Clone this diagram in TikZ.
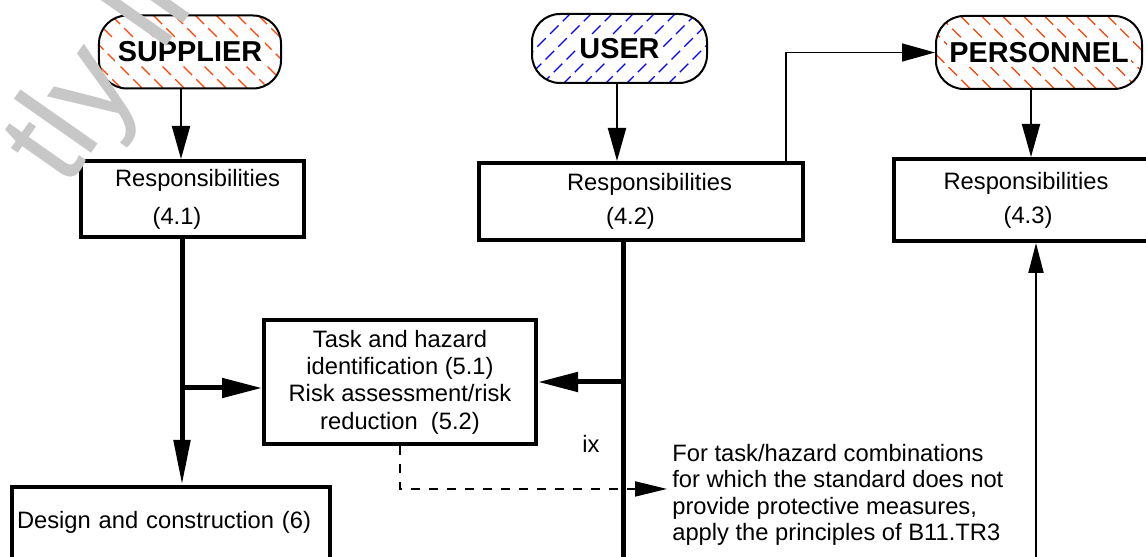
\documentclass[tikz,border=0pt]{standalone}
\usepackage{fontspec}
\setmainfont{Liberation Sans}
\usetikzlibrary{arrows.meta, calc}
\definecolor{hatchred}{RGB}{255,64,0}
\definecolor{hatchblue}{RGB}{0,0,255}
\newcommand{\partylabel}[1]{{\setlength{\fboxsep}{1.5pt}\colorbox{white}{#1}}}

\begin{document}
\begin{tikzpicture}[x=0.2mm, y=-0.2mm,
  font=\fontsize{13.5}{15.6}\selectfont,
  partybox/.style={draw, line width=0.4mm, rounded corners=5.6mm, minimum height=14.6mm,
    font=\fontsize{16.4}{18}\selectfont\bfseries},
  hatchdown/.style={path picture={\foreach \k in {-10,...,10}
      \draw[hatchred, line width=0.25mm, dash pattern=on 2.4mm off 1.2mm]
      ($(path picture bounding box.center)+(\k*4.2mm,0mm)+(-2cm,2cm)$) -- ++(4cm,-4cm);}},
  hatchup/.style={path picture={\foreach \k in {-10,...,10}
      \draw[hatchblue, line width=0.25mm, dash pattern=on 2.4mm off 1.2mm]
      ($(path picture bounding box.center)+(\k*4.2mm,0mm)+(-2cm,-2cm)$) -- ++(4cm,4cm);}},
  respbox/.style={draw, line width=0.8mm, align=center},
  feedarrow/.style={line width=0.4mm, -{Triangle[length=6.6mm, width=3.6mm]}},
  spineline/.style={line width=1mm},
  spinearrow/.style={spineline, -{Triangle[length=8mm, width=3.8mm]}},
  dasharrow/.style={line width=0.4mm, dash pattern=on 1.8mm off 1.8mm, -{Triangle[length=6.4mm, width=3mm]}}
]
\useasboundingbox (0,0) rectangle (1146,557);

\node[partybox, hatchdown, minimum width=36.4mm] (supplier) at (190,52) {\partylabel{SUPPLIER}};
\node[partybox, hatchup, minimum width=35mm, minimum height=13.8mm] (user) at (619.5,48.5) {\partylabel{USER}};
\node[partybox, hatchdown, minimum width=41.2mm] (personnel) at (1039,52.5) {\partylabel{PERSONNEL}};

\node[respbox, minimum width=44.6mm, minimum height=15.2mm] (resp1) at (192.5,199)
  {\hspace*{2mm}Responsibilities\\[2.1mm](4.1)\hspace*{6.2mm}};
\node[respbox, minimum width=64.8mm, minimum height=15.4mm] (resp2) at (641,201.5)
  {\hspace*{3.4mm}Responsibilities\\[1.3mm](4.2)\hspace*{4.2mm}};
\node[respbox, minimum width=52.8mm, minimum height=16.4mm] (resp3) at (1026,200)
  {Responsibilities\\[1.3mm]\hspace*{0.8mm}(4.3)};

\node[respbox, minimum width=54.4mm, minimum height=24.8mm] (hazard) at (400,382)
  {Task and hazard\\identification (5.1)\\Risk assessment/risk\\reduction\ \ (5.2)};
\node[respbox, anchor=north west, text width=61.6mm, align=left, inner xsep=1mm, inner ysep=0pt,
  text height=8.2mm, text depth=20mm] (design) at (10,485) {Design and construction (6)};

\node[anchor=north west, align=left, inner xsep=1mm, inner ysep=0pt,
  font=\fontsize{13.5}{15}\selectfont] (note) at (667,444)
  {For task/hazard combinations\\for which the standard does not\\provide protective measures,\\apply the principles of B11.TR3};
\node[anchor=base west, inner sep=0pt] (ix) at (582,453) {ix};

\coordinate (sspine) at ([xshift=-2.1mm]resp1.south);
\coordinate (uspine) at ([xshift=-3.6mm]resp2.south);
\coordinate (pfeed) at ([xshift=2mm]resp3.south);
\coordinate (bottom) at (0,590);
\coordinate (sjoin) at ($(sspine |- hazard.west)+(0,6)$);
\coordinate (noteto) at ($(note.west)+(0,-6)$);
\coordinate (sfeed) at ([xshift=-1.8mm]supplier.south);
\coordinate (ufeed) at ([xshift=-0.5mm]user.south);
\coordinate (pdown) at ([xshift=-1.6mm]personnel.south);
\coordinate (rise) at ([xshift=-3.8mm]resp2.north east);

\draw[feedarrow] (sfeed) -- (sfeed |- resp1.north);
\draw[feedarrow] (ufeed) -- (ufeed |- resp2.north);
\draw[feedarrow] (pdown) -- (pdown |- resp3.north);
\draw[feedarrow, line width=0.3mm] (rise) |- (personnel.west);

\draw[spineline, -{Triangle[length=9mm, width=3.2mm]}] (sspine) -- (sspine |- design.north);
\draw[spinearrow] (sjoin) -- (sjoin -| hazard.west);
\draw[spineline] (uspine) -- (uspine |- bottom);
\draw[spinearrow] (uspine |- hazard.east) -- (hazard.east);
\draw[dasharrow] (hazard.south) |- (noteto);
\draw[line width=0.4mm, -{Triangle[length=6mm, width=3mm]}] (pfeed |- bottom) -- (pfeed);

\node[rotate=55, anchor=base west, inner sep=0pt, text=black!22,
  font=\fontsize{74}{74}\selectfont] (stamp) at (66,190) {tly li};
\end{tikzpicture}
\end{document}
